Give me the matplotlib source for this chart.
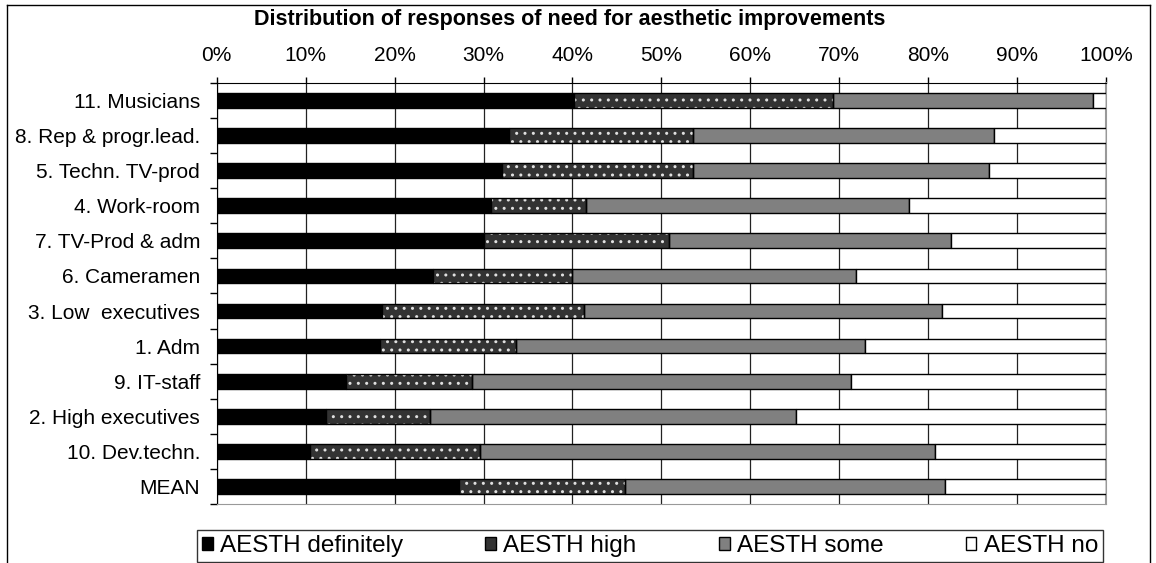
import numpy as np
import matplotlib
matplotlib.use("Agg")
from matplotlib import pyplot as plt
from matplotlib.patches import Patch
from matplotlib.lines import Line2D
from matplotlib.ticker import FuncFormatter, FixedLocator

plt.rcParams['font.family'] = ['Liberation Sans', 'DejaVu Sans']

# data, percent of responses per group
groups = ['11. Musicians', '8. Rep & progr.lead.', '5. Techn. TV-prod', '4. Work-room',
          '7. TV-Prod & adm', '6. Cameramen', '3. Low  executives', '1. Adm',
          '9. IT-staff', '2. High executives', '10. Dev.techn.', 'MEAN']
definitely = [40.2, 32.9, 32.1, 30.8, 30.0, 24.3, 18.6, 18.4, 14.5, 12.3, 10.5, 27.2]
high = [29.1, 20.7, 21.5, 10.7, 20.9, 15.7, 22.7, 15.2, 14.2, 11.7, 19.1, 18.7]
some = [29.3, 33.8, 33.3, 36.3, 31.7, 31.9, 40.3, 39.3, 42.6, 41.1, 51.2, 36.0]
no = [1.4, 12.6, 13.1, 22.2, 17.4, 28.1, 18.4, 27.1, 28.7, 34.9, 19.2, 18.1]
legend_labels = ['AESTH definitely', 'AESTH high', 'AESTH some', 'AESTH no']

fig = plt.figure(figsize=(11.56, 5.63), dpi=100)
ax = fig.add_axes([0.1875, 0.1048, 0.7692, 0.7478])

y = np.arange(len(groups))
h = 0.42
d = np.array(definitely)
hi = np.array(high)
so = np.array(some)
n = np.array(no)

ax.barh(y, d, h, color='black', edgecolor='black', lw=1, zorder=3)
ax.barh(y, hi, h, left=d, color='#333333', edgecolor='#e0e0e0', hatch='..', lw=0, zorder=3)
ax.barh(y, hi, h, left=d, fill=False, edgecolor='black', lw=1, zorder=4)
ax.barh(y, so, h, left=d + hi, color='#808080', edgecolor='black', lw=1, zorder=3)
ax.barh(y, n, h, left=d + hi + so, color='white', edgecolor='black', lw=1, zorder=3)

ax.set_xlim(0, 100)
ax.set_ylim(len(groups) - 0.5, -0.5)
ax.set_xticks(np.arange(0, 101, 10))
ax.xaxis.set_major_formatter(FuncFormatter(lambda v, p: '%d%%' % v))
ax.xaxis.tick_top()
ax.tick_params(axis='x', direction='out', length=4, width=1, pad=9, labelsize=15)
ax.xaxis.grid(True, color='#222222', lw=0.9)
ax.set_axisbelow(True)

ax.set_yticks(y)
ax.set_yticklabels(groups)
ax.yaxis.set_minor_locator(FixedLocator(np.arange(-0.5, len(groups), 1)))
ax.tick_params(axis='y', which='major', length=0, pad=12, labelsize=15)
ax.tick_params(axis='y', which='minor', direction='out', length=5, width=1)

ax.spines['top'].set_color('black')
ax.spines['left'].set_color('black')
ax.spines['bottom'].set_color('#999999')
ax.spines['right'].set_color('#999999')
ax.spines['right'].set_linewidth(1.5)

fig.text(0.493, 1 - 20 / 563, 'Distribution of responses of need for aesthetic improvements',
         ha='center', va='center', fontsize=15.5, fontweight='bold')

handles = [Patch(facecolor='black', edgecolor='black'),
           Patch(facecolor='#333333', edgecolor='black'),
           Patch(facecolor='#808080', edgecolor='black'),
           Patch(facecolor='white', edgecolor='black')]
leg = fig.legend(handles, legend_labels, loc='upper left', ncol=4, mode='expand',
                 bbox_to_anchor=(197 / 1156, 1 - 530 / 563, (1103 - 197) / 1156, 0.0),
                 fontsize=17.5, frameon=True, fancybox=False, handlelength=0.45, handleheight=0.45,
                 handletextpad=0.3, borderpad=0.2, borderaxespad=0)
leg.get_frame().set_edgecolor('black')
leg.get_frame().set_linewidth(1)

# outer frame of the chart area
fig.add_artist(Line2D([7 / 1156, 7 / 1156], [0, 1 - 5 / 563], color='black', lw=1))
fig.add_artist(Line2D([7 / 1156, 1150 / 1156], [1 - 5 / 563, 1 - 5 / 563], color='black', lw=1))
fig.add_artist(Line2D([1150 / 1156, 1150 / 1156], [0, 1 - 5 / 563], color='black', lw=1))

fig.savefig('out.png', dpi=100)
